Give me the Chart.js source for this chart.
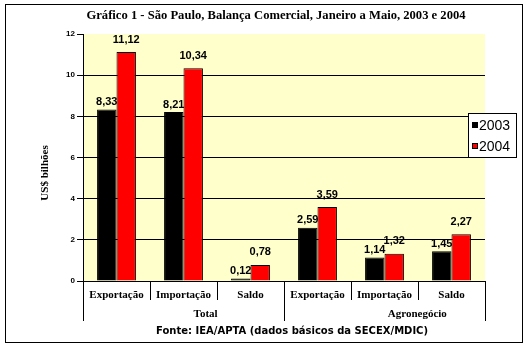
<!DOCTYPE html>
<html>
<head>
<meta charset="utf-8">
<script src="https://cdn.jsdelivr.net/npm/chart.js@4"></script>
<style>
  html, body { margin: 0; padding: 0; background: #fff; }
  canvas { display: block; }
</style>
</head>
<body>
<canvas id="chart" width="528" height="347"></canvas>
<script>
const categories = ['Exportação', 'Importação', 'Saldo', 'Exportação', 'Importação', 'Saldo'];
const groups = ['Total', 'Agronegócio'];
const years = ['2003', '2004'];
const values2003 = [8.33, 8.21, 0.12, 2.59, 1.14, 1.45];
const values2004 = [11.12, 10.34, 0.78, 3.59, 1.32, 2.27];
const yTicks = [0, 2, 4, 6, 8, 10, 12];

const SERIF = '"Liberation Serif", "Times New Roman", serif';
const SANS = '"Liberation Sans", Arial, sans-serif';

function fmt(v) {
  return v.toFixed(2).replace('.', ',');
}

const decorations = {
  id: 'decorations',
  beforeDraw(chart) {
    const { ctx, chartArea: a } = chart;
    ctx.save();
    ctx.fillStyle = '#fff';
    ctx.fillRect(0, 0, chart.width, chart.height);
    ctx.fillStyle = '#FFFFCC';
    ctx.fillRect(a.left, a.top, a.right - a.left, a.bottom - a.top);
    ctx.restore();
  },
  afterDraw(chart) {
    const { ctx, chartArea: a } = chart;
    ctx.save();

    // outer frame
    ctx.strokeStyle = '#000';
    ctx.lineWidth = 1;
    ctx.strokeRect(5.5, 4.5, 517, 338);

    // title
    ctx.fillStyle = '#000';
    ctx.font = 'bold 12.6px ' + SERIF;
    ctx.textAlign = 'center';
    ctx.textBaseline = 'middle';
    ctx.fillText('Gráfico 1 - São Paulo, Balança Comercial, Janeiro a Maio, 2003 e 2004', 276, 16);

    // y title
    ctx.save();
    ctx.translate(45, 173);
    ctx.rotate(-Math.PI / 2);
    ctx.font = 'bold 11px ' + SERIF;
    ctx.fillText('US$ bilhões', 0, 0);
    ctx.restore();

    // value labels above bars
    ctx.font = 'bold 11px ' + SANS;
    ctx.textBaseline = 'bottom';
    chart.data.datasets.forEach((ds, di) => {
      const meta = chart.getDatasetMeta(di);
      meta.data.forEach((bar, i) => {
        ctx.fillText(fmt(ds.data[i]), bar.x, bar.y - ds.labelGap);
      });
    });

    // separators under the axis
    const catW = (a.right - a.left) / categories.length;
    ctx.beginPath();
    for (let i = 0; i <= categories.length; i++) {
      const px = Math.round(a.left + i * catW) + 0.5;
      const long = i % 3 === 0;
      ctx.moveTo(px, a.bottom);
      ctx.lineTo(px, long ? a.bottom + 40 : a.bottom + 19);
    }
    ctx.stroke();

    // group labels
    ctx.font = 'bold 11px ' + SERIF;
    ctx.textBaseline = 'middle';
    ctx.fillText(groups[0], a.left + catW * 1.83, a.bottom + 33);
    ctx.fillText(groups[1], a.left + catW * 4.99, a.bottom + 33);

    // source
    ctx.font = 'bold 10px "DejaVu Sans", sans-serif';
    ctx.fillText('Fonte: IEA/APTA (dados básicos da SECEX/MDIC)', 292, 331);

    // legend
    const lx = 468, ly = 113, lw = 48, lh = 44;
    ctx.fillStyle = '#fff';
    ctx.fillRect(lx, ly, lw, lh);
    ctx.strokeRect(lx + 0.5, ly + 0.5, lw, lh);
    ctx.font = '14px ' + SANS;
    ctx.textAlign = 'left';
    chart.data.datasets.forEach((ds, di) => {
      const cy = ly + 12 + di * 21;
      ctx.fillStyle = ds.backgroundColor;
      ctx.fillRect(lx + 4, cy - 3, 6, 6);
      ctx.strokeStyle = '#000';
      ctx.strokeRect(lx + 4.5, cy - 2.5, 5, 5);
      ctx.fillStyle = '#000';
      ctx.fillText(ds.label, lx + 11, cy + 1);
    });

    ctx.restore();
  }
};

new Chart(document.getElementById('chart').getContext('2d'), {
  type: 'bar',
  data: {
    labels: categories,
    datasets: [
      { label: years[0], data: values2003, backgroundColor: '#000000', borderColor: '#000000', borderWidth: 1, labelGap: 2 },
      { label: years[1], data: values2004, backgroundColor: '#FF0000', borderColor: '#000000', borderWidth: 1, labelGap: 7 }
    ]
  },
  options: {
    responsive: false,
    animation: false,
    datasets: { bar: { categoryPercentage: 0.58, barPercentage: 1.0 } },
    layout: { padding: { top: 34, right: 43, left: 0, bottom: 0 } },
    plugins: { legend: { display: false }, title: { display: false }, tooltip: { enabled: false } },
    scales: {
      x: {
        offset: true,
        grid: { display: false },
        border: { display: true, color: '#000', width: 1 },
        ticks: { color: '#000', font: { family: SERIF, size: 11, weight: 'bold' }, padding: 0, maxRotation: 0, autoSkip: false },
        afterFit(s) { s.height = 66; }
      },
      y: {
        min: yTicks[0],
        max: yTicks[yTicks.length - 1],
        afterBuildTicks(s) { s.ticks = yTicks.map(v => ({ value: v })); },
        grid: {
          color: c => (c.tick && c.tick.value === 12) ? 'rgba(0,0,0,0)' : '#000',
          tickColor: '#000',
          tickLength: 6
        },
        border: { display: true, color: '#000', width: 1 },
        ticks: { color: '#000', font: { family: SANS, size: 8, weight: 'bold' }, padding: 2 },
        afterFit(s) { s.width = 83; }
      }
    }
  },
  plugins: [decorations]
});
</script>
</body>
</html>
